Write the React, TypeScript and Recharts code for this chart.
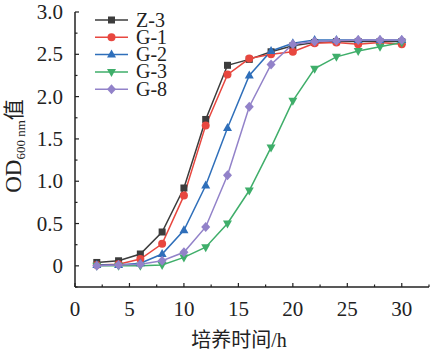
import { LineChart, Line, XAxis, YAxis, Legend } from "recharts";

const hours = [2, 4, 6, 8, 10, 12, 14, 16, 18, 20, 22, 24, 26, 28, 30];
const z3 = [0.04, 0.06, 0.14, 0.4, 0.92, 1.73, 2.37, 2.44, 2.53, 2.6, 2.64, 2.65, 2.65, 2.65, 2.65];
const g1 = [0.01, 0.02, 0.08, 0.26, 0.83, 1.66, 2.26, 2.45, 2.5, 2.53, 2.63, 2.64, 2.62, 2.64, 2.62];
const g2 = [0.01, 0.01, 0.03, 0.14, 0.42, 0.95, 1.63, 2.25, 2.54, 2.63, 2.67, 2.67, 2.67, 2.67, 2.67];
const g3 = [0, 0, 0, 0.01, 0.1, 0.22, 0.5, 0.89, 1.4, 1.95, 2.33, 2.47, 2.54, 2.59, 2.64];
const g8 = [0, 0.01, 0.02, 0.06, 0.16, 0.46, 1.07, 1.88, 2.38, 2.62, 2.65, 2.66, 2.67, 2.67, 2.67];

// major ticks get a label, the ones in between are short minor ticks
const xTicks = [0, 2.5, 5, 7.5, 10, 12.5, 15, 17.5, 20, 22.5, 25, 27.5, 30, 32.5];
const yTicks = [-0.25, 0, 0.25, 0.5, 0.75, 1, 1.25, 1.5, 1.75, 2, 2.25, 2.5, 2.75, 3];

const series = [
  { key: "z3", name: "Z-3", color: "#3c3c3c", shape: "square" },
  { key: "g1", name: "G-1", color: "#e8473f", shape: "circle" },
  { key: "g2", name: "G-2", color: "#2f6fba", shape: "up" },
  { key: "g3", name: "G-3", color: "#3fae6a", shape: "down" },
  { key: "g8", name: "G-8", color: "#9282c9", shape: "diamond" },
];

const data = hours.map((h, i) => ({ h, z3: z3[i], g1: g1[i], g2: g2[i], g3: g3[i], g8: g8[i] }));

const FONT = "'Liberation Serif', 'Times New Roman', serif";
const CJK = "'Liberation Serif', 'Noto Sans CJK SC', serif";
const INK = "#222";

const marker = (shape: string, color: string, cx: number, cy: number, key?: any) => {
  switch (shape) {
    case "square":
      return <rect key={key} x={cx - 3.5} y={cy - 3.5} width={7} height={7} fill={color} />;
    case "circle":
      return <circle key={key} cx={cx} cy={cy} r={4} fill={color} />;
    case "up":
      return <polygon key={key} points={`${cx},${cy - 5} ${cx - 4.5},${cy + 3} ${cx + 4.5},${cy + 3}`} fill={color} />;
    case "down":
      return <polygon key={key} points={`${cx},${cy + 5} ${cx - 4.5},${cy - 3} ${cx + 4.5},${cy - 3}`} fill={color} />;
    default:
      return <polygon key={key} points={`${cx},${cy - 5} ${cx + 4.5},${cy} ${cx},${cy + 5} ${cx - 4.5},${cy}`} fill={color} />;
  }
};

const makeDot = (shape: string, color: string) => (props: any) => {
  const { cx, cy, index } = props;
  if (cx == null || cy == null) return <g key={`${shape}-${index}`} />;
  return marker(shape, color, cx, cy, `${shape}-${index}`);
};

const XTick = (props: any) => {
  const { x, y, payload } = props;
  const v = payload.value;
  const major = v % 5 === 0;
  return (
    <g>
      <line x1={x} x2={x} y1={y} y2={y - (major ? 4 : 2.5)} stroke={INK} strokeWidth={1.2} />
      {major && (
        <text x={x} y={y + 29} textAnchor="middle" fontFamily={FONT} fontSize={21} fill={INK}>
          {v}
        </text>
      )}
    </g>
  );
};

const YTick = (props: any) => {
  const { x, y, payload } = props;
  const v = payload.value;
  const major = Math.abs(v * 2 - Math.round(v * 2)) < 1e-6;
  return (
    <g>
      <line x1={x} x2={x + (major ? 4 : 2.5)} y1={y} y2={y} stroke={INK} strokeWidth={1.2} />
      {major && (
        <text x={x - 12} y={y} dy="0.34em" textAnchor="end" fontFamily={FONT} fontSize={21} fill={INK}>
          {v === 0 ? "0" : v.toFixed(1)}
        </text>
      )}
    </g>
  );
};

const YTitle = () => (
  <text transform="translate(20.5,146) rotate(-90)" textAnchor="middle" fontFamily={CJK} fill={INK}>
    <tspan fontSize={23}>OD</tspan>
    <tspan fontSize={13} dy={4}>600 nm</tspan>
    <tspan fontSize={21} dy={-4}>值</tspan>
  </text>
);

const XTitle = () => (
  <text x={239} y={347} textAnchor="middle" fontFamily={CJK} fontSize={20} fill={INK}>
    培养时间/h
  </text>
);

const LegendBox = () => (
  <svg width={120} height={95}>
    {series.map((s, i) => {
      const y = 12 + i * 17.3;
      return (
        <g key={s.key}>
          <line x1={5} x2={38} y1={y} y2={y} stroke={s.color} strokeWidth={1.5} />
          {marker(s.shape, s.color, 21.5, y)}
          <text x={46} y={y + 6.5} fontFamily={FONT} fontSize={20} fill={INK}>
            {s.name}
          </text>
        </g>
      );
    })}
  </svg>
);

export default function App() {
  return (
    <div style={{ position: "absolute", left: 0, top: 0, background: "#fff" }}>
      <LineChart width={433} height={353} data={data} margin={{ top: 12, right: 4, bottom: 0, left: 0 }}>
        <XAxis
          dataKey="h"
          type="number"
          domain={[0, 32.5]}
          allowDataOverflow
          ticks={xTicks}
          interval={0}
          height={66}
          tickLine={false}
          tickSize={0}
          tickMargin={0}
          axisLine={{ stroke: INK, strokeWidth: 1.5 }}
          tick={<XTick />}
          label={<XTitle />}
        />
        <YAxis
          type="number"
          domain={[-0.25, 3]}
          allowDataOverflow
          ticks={yTicks}
          interval={0}
          width={75}
          tickLine={false}
          tickSize={0}
          tickMargin={0}
          axisLine={{ stroke: INK, strokeWidth: 1.5 }}
          tick={<YTick />}
          label={<YTitle />}
        />
        <Legend
          layout="horizontal"
          align="center"
          verticalAlign="middle"
          wrapperStyle={{ position: "absolute", left: 90, top: 8, width: 120, height: 95 }}
          content={<LegendBox />}
        />
        {series.map((s) => (
          <Line
            key={s.key}
            type="linear"
            dataKey={s.key}
            name={s.name}
            stroke={s.color}
            strokeWidth={1.5}
            dot={makeDot(s.shape, s.color)}
            activeDot={false}
            isAnimationActive={false}
          />
        ))}
      </LineChart>
    </div>
  );
}
